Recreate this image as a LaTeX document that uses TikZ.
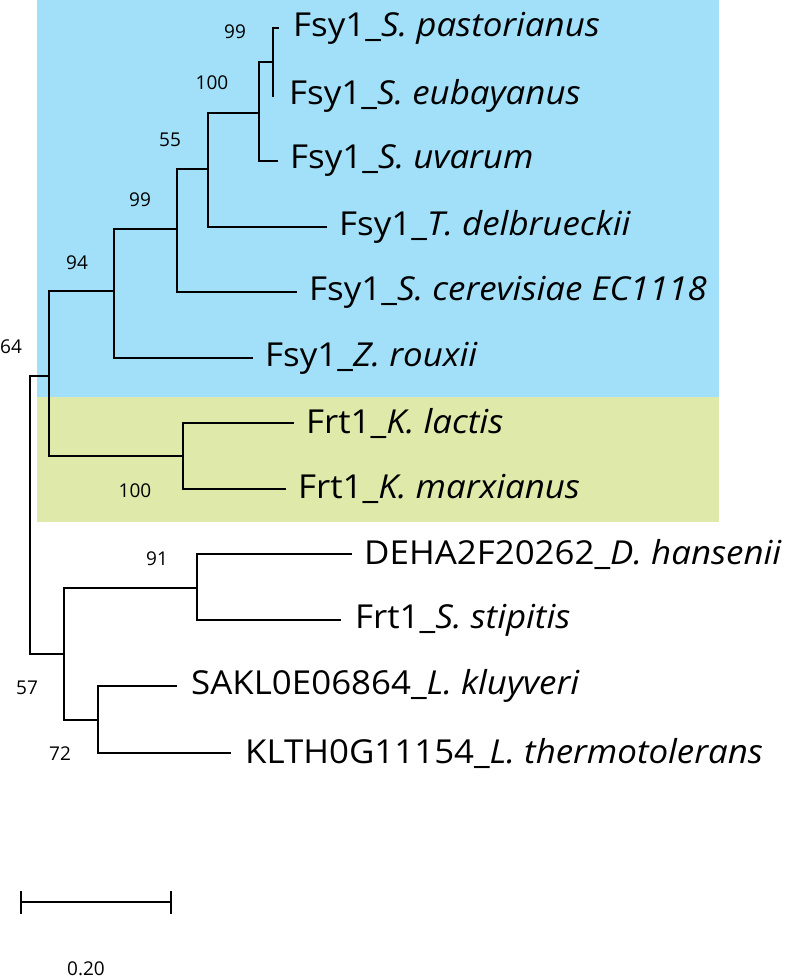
\documentclass[tikz,border=0pt]{standalone}
\usepackage{fontspec}
\setmainfont{Open Sans}
\newfontfamily\taxonfont{Open Sans}[FakeStretch=1.057]
\definecolor{cladeblue}{HTML}{A1E0F8}
\definecolor{cladegreen}{HTML}{DFEAAA}
\begin{document}
\begin{tikzpicture}[x=1pt,y=-1pt,
  branch/.style={line width=2.8pt, line cap=rect},
  taxon/.style={anchor=west, inner sep=0pt, xshift=13pt, font=\taxonfont\fontsize{33}{36}\selectfont},
  boot/.style={inner sep=0pt, font=\fontsize{19}{21}\selectfont}]
\useasboundingbox (0,0) rectangle (787,980);
% clade shading
\fill[cladeblue] (37,0) rectangle (719,397);
\fill[cladegreen] (37,397) rectangle (719,522);
% internal nodes
\coordinate (root) at (30,515);
\coordinate (n64) at (49,376);
\coordinate (n94) at (114,291);
\coordinate (n99b) at (177,229);
\coordinate (n55) at (208,169);
\coordinate (n100) at (259,113);
\coordinate (n99a) at (273,62);
\coordinate (nK) at (183,456);
\coordinate (n57v) at (64,654);
\coordinate (n91) at (197,588);
\coordinate (n72) at (98,720);
% tips
\coordinate (pas) at (278,28);
\coordinate (eub) at (273,96);
\coordinate (uva) at (277,161);
\coordinate (del) at (326,227);
\coordinate (cer) at (296,292);
\coordinate (rou) at (252,358);
\coordinate (lac) at (293,423);
\coordinate (mar) at (285,489);
\coordinate (deh) at (351,554);
\coordinate (sti) at (340,620);
\coordinate (sak) at (176,686);
\coordinate (klt) at (230,753);
% branches
\draw[branch] (root) |- (n64);
\draw[branch] (root) |- (n57v);
\draw[branch] (n64) |- (n94);
\draw[branch] (n64) |- (nK);
\draw[branch] (n94) |- (n99b);
\draw[branch] (n94) |- (rou);
\draw[branch] (n99b) |- (n55);
\draw[branch] (n99b) |- (cer);
\draw[branch] (n55) |- (n100);
\draw[branch] (n55) |- (del);
\draw[branch] (n100) |- (n99a);
\draw[branch] (n100) |- (uva);
\draw[branch] (n99a) |- (pas);
\draw[branch] (n99a) -- (eub);
\draw[branch] (nK) |- (lac);
\draw[branch] (nK) |- (mar);
\draw[branch] (n57v) |- (n91);
\draw[branch] (n57v) |- (n72);
\draw[branch] (n91) |- (deh);
\draw[branch] (n91) |- (sti);
\draw[branch] (n72) |- (sak);
\draw[branch] (n72) |- (klt);
% taxon labels
\node[taxon, xshift=2pt] (tpas) at (pas) {Fsy1\_\textit{S. pastorianus}};
\node[taxon, xshift=3pt] (teub) at (eub) {Fsy1\_\textit{S. eubayanus}};
\node[taxon] (tuva) at (uva) {Fsy1\_\textit{S. uvarum}};
\node[taxon] (tdel) at (del) {Fsy1\_\textit{T. delbrueckii}};
\node[taxon] (tcer) at (cer) {Fsy1\_\textit{S. cerevisiae EC1118}};
\node[taxon] (trou) at (rou) {Fsy1\_\textit{Z. rouxii}};
\node[taxon] (tlac) at (lac) {Frt1\_\textit{K. lactis}};
\node[taxon] (tmar) at (mar) {Frt1\_\textit{K. marxianus}};
\node[taxon] (tdeh) at (deh) {DEHA2F20262\_\textit{D. hansenii}};
\node[taxon, xshift=2pt] (tsti) at (sti) {Frt1\_\textit{S. stipitis}};
\node[taxon, xshift=2pt] (tsak) at (sak) {SAKL0E06864\_\textit{L. kluyveri}};
\node[taxon, xshift=2pt] (tklt) at (klt) {KLTH0G11154\_\textit{L. thermotolerans}};
% bootstrap values
\node[boot] (b99a) at (235,32) {99};
\node[boot] (b100) at (212,83) {100};
\node[boot] (b55) at (170,140) {55};
\node[boot] (b99b) at (140,200) {99};
\node[boot] (b94) at (77,263) {94};
\node[boot] (b64) at (11,347) {64};
\node[boot] (bK) at (135,491) {100};
\node[boot] (b91) at (157,559) {91};
\node[boot] (b57) at (27,688) {57};
\node[boot] (b72) at (60,754) {72};
% scale bar
\coordinate (sL) at (21,902);
\coordinate (sR) at (171,902);
\draw[line width=2.8pt] (sL) -- (sR);
\draw[line width=2.8pt] ([yshift=-11.5pt]sL) -- ([yshift=11.5pt]sL);
\draw[line width=2.8pt] ([yshift=-11.5pt]sR) -- ([yshift=11.5pt]sR);
\node[boot] (scale) at (86,969) {0.20};
\end{tikzpicture}
\end{document}
